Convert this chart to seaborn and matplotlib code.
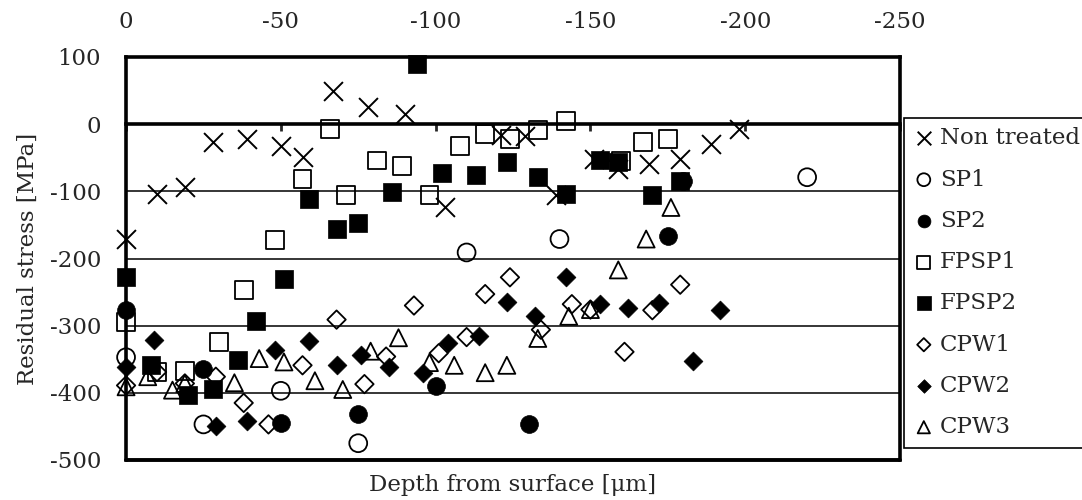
import matplotlib
matplotlib.use("Agg")
import matplotlib.pyplot as plt
import numpy as np
import pandas as pd
import seaborn as sns

# depth [um] and residual stress [MPa]
nt_depth = [0, -10, -19, -28, -39, -50, -57, -67, -78, -90, -103, -121, -129, -139, -151, -159, -169, -179, -189, -198]
nt_stress = [-171, -104, -93, -26, -22, -33, -49, 49, 25, 15, -123, -16, -17, -106, -52, -67, -59, -52, -29, -7]

sp1_depth = [0, -25, -50, -75, -110, -140, -220]
sp1_stress = [-347, -447, -397, -475, -191, -171, -79]

sp2_depth = [0, -25, -50, -75, -100, -130, -175, -180]
sp2_stress = [-277, -364, -445, -432, -390, -447, -167, -85]

fpsp1_depth = [0, -10, -19, -30, -38, -48, -57, -66, -71, -81, -89, -98, -108, -116, -124, -133, -142, -160, -167, -175]
fpsp1_stress = [-295, -369, -367, -324, -247, -173, -82, -7, -106, -54, -62, -105, -32, -15, -22, -9, 5, -55, -27, -22]

fpsp2_depth = [0, -8, -20, -28, -36, -42, -51, -59, -68, -75, -86, -94, -102, -113, -123, -133, -142, -153, -159, -170, -179]
fpsp2_stress = [-228, -359, -403, -395, -351, -293, -230, -111, -156, -147, -101, 89, -73, -75, -57, -78, -104, -53, -57, -105, -84]

cpw1_depth = [0, -10, -19, -29, -38, -46, -57, -68, -77, -84, -93, -101, -110, -116, -124, -134, -144, -150, -161, -170, -179]
cpw1_stress = [-389, -369, -386, -376, -415, -447, -359, -291, -387, -346, -270, -341, -317, -253, -228, -306, -268, -276, -339, -277, -239]

cpw2_depth = [0, -9, -29, -39, -48, -59, -68, -76, -85, -96, -104, -114, -123, -132, -142, -153, -162, -172, -183, -192]
cpw2_stress = [-362, -322, -450, -442, -336, -323, -359, -343, -361, -370, -326, -316, -265, -286, -228, -267, -273, -266, -353, -277]

cpw3_depth = [0, -7, -15, -19, -35, -43, -51, -61, -70, -79, -88, -98, -106, -116, -123, -133, -143, -150, -159, -168, -176]
cpw3_stress = [-391, -376, -396, -386, -385, -349, -354, -382, -395, -338, -318, -355, -359, -370, -359, -319, -286, -276, -217, -171, -124]

series = {
    "Non treated": (nt_depth, nt_stress),
    "SP1": (sp1_depth, sp1_stress),
    "SP2": (sp2_depth, sp2_stress),
    "FPSP1": (fpsp1_depth, fpsp1_stress),
    "FPSP2": (fpsp2_depth, fpsp2_stress),
    "CPW1": (cpw1_depth, cpw1_stress),
    "CPW2": (cpw2_depth, cpw2_stress),
    "CPW3": (cpw3_depth, cpw3_stress),
}

# marker, filled, size
styles = {
    "Non treated": ("x", None, 185),
    "SP1": ("o", False, 165),
    "SP2": ("o", True, 165),
    "FPSP1": ("s", False, 165),
    "FPSP2": ("s", True, 170),
    "CPW1": ("D", False, 88),
    "CPW2": ("D", True, 92),
    "CPW3": ("^", False, 150),
}

rows = []
for name, (xs, ys) in series.items():
    for xv, yv in zip(xs, ys):
        rows.append((name, xv, yv))
df = pd.DataFrame(rows, columns=["sample", "depth", "stress"])

sns.set_style("white")
plt.rcParams["font.family"] = ["DejaVu Serif"]
plt.rcParams["axes.unicode_minus"] = False
fs = 16.5

fig = plt.figure(figsize=(10.82, 5), dpi=100)
ax = fig.add_axes([0.1165, 0.08, 0.7153, 0.806])

for name in series:
    mk, filled, size = styles[name]
    sub = df[df["sample"] == name]
    if filled is None:
        sns.scatterplot(data=sub, x="depth", y="stress", marker=mk, s=size,
                        color="black", linewidth=1.4, label=name, ax=ax,
                        clip_on=False, zorder=3)
    elif filled:
        sns.scatterplot(data=sub, x="depth", y="stress", marker=mk, s=size,
                        color="black", edgecolor="black", linewidth=0.5,
                        label=name, ax=ax, clip_on=False, zorder=3)
    else:
        sns.scatterplot(data=sub, x="depth", y="stress", marker=mk, s=size,
                        color="black", facecolor="none", edgecolor="black",
                        linewidth=1.3, label=name, ax=ax, clip_on=False, zorder=3)

ax.set_xlim(0, -250)
ax.set_ylim(-500, 100)
ax.set_xticks(np.arange(0, -251, -50))
ax.set_yticks(np.arange(-500, 101, 100))

ax.set_axisbelow(True)
ax.yaxis.grid(True, color="black", linewidth=1.1)
ax.xaxis.grid(False)

for side in ["top", "left", "right", "bottom"]:
    ax.spines[side].set_visible(True)
    ax.spines[side].set_color("black")
    ax.spines[side].set_linewidth(2.6)
ax.spines["bottom"].set_position(("data", 0))
ax.axhline(-500, color="black", linewidth=2.8, clip_on=False, zorder=4)

ax.tick_params(axis="x", which="major", direction="out", length=5, width=2,
               bottom=True, top=False, labelbottom=False, labeltop=True,
               labelsize=fs, pad=12)
ax.tick_params(axis="y", which="major", length=0, left=False, labelsize=fs, pad=18)

ax.set_xlabel("Depth from surface [\u03bcm]", fontsize=fs)
ax.xaxis.set_label_coords(0.5, -0.035)
ax.set_ylabel("Residual stress [MPa]", fontsize=fs, labelpad=8)

leg = ax.legend(loc="upper left", bbox_to_anchor=(1.005, 0.849, 0.32, 0.0),
                mode="expand", borderaxespad=0, fontsize=fs, frameon=True,
                fancybox=False, edgecolor="black", framealpha=1,
                markerscale=0.72, handlelength=0.9, handletextpad=0.25,
                labelspacing=0.84, borderpad=0.42)
leg.get_frame().set_linewidth(1.2)

fig.savefig("out.png", dpi=100)
